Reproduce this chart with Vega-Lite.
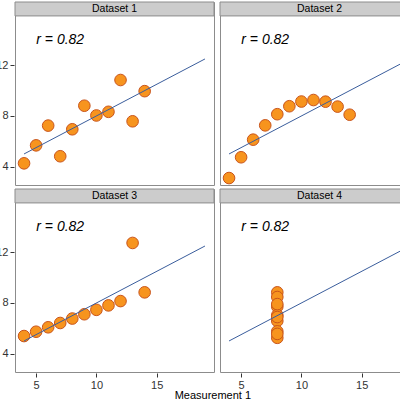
{
  "$schema": "https://vega.github.io/schema/vega-lite/v6.json",
  "autosize": {"type": "pad"},
  "padding": {"left": -5, "top": 1, "right": 0, "bottom": 0},
  "background": "white",
  "data": {"values": [
    {"dataset": "Dataset 1", "x": 10, "y": 8.04},
    {"dataset": "Dataset 1", "x": 8, "y": 6.95},
    {"dataset": "Dataset 1", "x": 13, "y": 7.58},
    {"dataset": "Dataset 1", "x": 9, "y": 8.81},
    {"dataset": "Dataset 1", "x": 11, "y": 8.33},
    {"dataset": "Dataset 1", "x": 14, "y": 9.96},
    {"dataset": "Dataset 1", "x": 6, "y": 7.24},
    {"dataset": "Dataset 1", "x": 4, "y": 4.26},
    {"dataset": "Dataset 1", "x": 12, "y": 10.84},
    {"dataset": "Dataset 1", "x": 7, "y": 4.82},
    {"dataset": "Dataset 1", "x": 5, "y": 5.68},
    {"dataset": "Dataset 2", "x": 10, "y": 9.14},
    {"dataset": "Dataset 2", "x": 8, "y": 8.14},
    {"dataset": "Dataset 2", "x": 13, "y": 8.74},
    {"dataset": "Dataset 2", "x": 9, "y": 8.77},
    {"dataset": "Dataset 2", "x": 11, "y": 9.26},
    {"dataset": "Dataset 2", "x": 14, "y": 8.1},
    {"dataset": "Dataset 2", "x": 6, "y": 6.13},
    {"dataset": "Dataset 2", "x": 4, "y": 3.1},
    {"dataset": "Dataset 2", "x": 12, "y": 9.13},
    {"dataset": "Dataset 2", "x": 7, "y": 7.26},
    {"dataset": "Dataset 2", "x": 5, "y": 4.74},
    {"dataset": "Dataset 3", "x": 10, "y": 7.46},
    {"dataset": "Dataset 3", "x": 8, "y": 6.77},
    {"dataset": "Dataset 3", "x": 13, "y": 12.74},
    {"dataset": "Dataset 3", "x": 9, "y": 7.11},
    {"dataset": "Dataset 3", "x": 11, "y": 7.81},
    {"dataset": "Dataset 3", "x": 14, "y": 8.84},
    {"dataset": "Dataset 3", "x": 6, "y": 6.08},
    {"dataset": "Dataset 3", "x": 4, "y": 5.39},
    {"dataset": "Dataset 3", "x": 12, "y": 8.15},
    {"dataset": "Dataset 3", "x": 7, "y": 6.42},
    {"dataset": "Dataset 3", "x": 5, "y": 5.73},
    {"dataset": "Dataset 4", "x": 8, "y": 6.58},
    {"dataset": "Dataset 4", "x": 8, "y": 5.76},
    {"dataset": "Dataset 4", "x": 8, "y": 7.71},
    {"dataset": "Dataset 4", "x": 8, "y": 8.84},
    {"dataset": "Dataset 4", "x": 8, "y": 8.47},
    {"dataset": "Dataset 4", "x": 8, "y": 7.04},
    {"dataset": "Dataset 4", "x": 8, "y": 5.25},
    {"dataset": "Dataset 4", "x": 19, "y": 12.5},
    {"dataset": "Dataset 4", "x": 8, "y": 5.56},
    {"dataset": "Dataset 4", "x": 8, "y": 7.91},
    {"dataset": "Dataset 4", "x": 8, "y": 6.89},
    {"dataset": "Dataset 1", "label": "r = 0.82"},
    {"dataset": "Dataset 2", "label": "r = 0.82"},
    {"dataset": "Dataset 3", "label": "r = 0.82"},
    {"dataset": "Dataset 4", "label": "r = 0.82"}
  ]},
  "facet": {"field": "dataset", "type": "nominal", "title": null, "header": {"labelExpr": "''", "labelFontSize": 0, "labelColor": "transparent", "labelPadding": 0, "title": null}},
  "columns": 2,
  "spacing": {"row": 1, "column": 4},
  "title": {"text": "Measurement 1", "orient": "bottom", "anchor": "middle", "fontSize": 11, "fontWeight": "normal", "font": "Liberation Sans", "color": "#000000", "offset": 0, "dx": 5},
  "spec": {
    "width": 199,
    "height": 183,
    "layer": [
      {
        "transform": [{"filter": "isValid(datum.label)"}],
        "mark": {"type": "rect", "fill": "#cccccc", "stroke": "#8c8c8c", "strokeWidth": 1},
        "encoding": {
          "x": {"datum": 3.25, "type": "quantitative",
            "scale": {"domain": [3.25, 19.75], "nice": false, "zero": false},
            "axis": {"title": null, "values": [5, 7.5, 10, 12.5, 15, 17.5],
              "labelExpr": "datum.value % 5 === 0 ? datum.label : ''",
              "gridColor": {"condition": {"test": "datum.value % 5 === 0", "value": "#e3e3e3"}, "value": "#f3f3f3"},
              "tickColor": {"condition": {"test": "datum.value % 5 === 0", "value": "#333333"}, "value": "transparent"}}},
          "x2": {"datum": 19.75},
          "y": {"datum": 15.9, "type": "quantitative",
            "scale": {"domain": [2.55, 17.0], "nice": false, "zero": false},
            "axis": {"title": null, "values": [4, 6, 8, 10, 12, 14],
              "labelExpr": "datum.value % 4 === 0 ? datum.label : ''",
              "gridColor": {"condition": {"test": "datum.value % 4 === 0", "value": "#e3e3e3"}, "value": "#f3f3f3"},
              "tickColor": {"condition": {"test": "datum.value % 4 === 0", "value": "#333333"}, "value": "transparent"}}},
          "y2": {"datum": 17.0}
        }
      },
      {
        "transform": [{"filter": "isValid(datum.label)"}],
        "mark": {"type": "text", "font": "Liberation Sans", "fontSize": 10.5, "color": "#000000", "align": "center", "baseline": "middle"},
        "encoding": {
          "x": {"datum": 11.5, "type": "quantitative"},
          "y": {"datum": 16.45, "type": "quantitative"},
          "text": {"field": "dataset"}
        }
      },
      {
        "transform": [{"filter": "isValid(datum.label)"}],
        "mark": {"type": "text", "font": "Liberation Sans", "fontSize": 14, "fontStyle": "italic", "color": "#000000", "align": "center", "baseline": "middle"},
        "encoding": {
          "x": {"datum": 7, "type": "quantitative"},
          "y": {"datum": 14, "type": "quantitative"},
          "text": {"field": "label"}
        }
      },
      {
        "transform": [{"filter": "isValid(datum.x)"}],
        "mark": {"type": "point", "shape": "circle", "filled": true, "size": 135, "fill": "#F7941E", "stroke": "#C9541A", "strokeWidth": 1, "opacity": 1},
        "encoding": {
          "x": {"field": "x", "type": "quantitative"},
          "y": {"field": "y", "type": "quantitative"}
        }
      },
      {
        "transform": [
          {"filter": "isValid(datum.x)"},
          {"regression": "y", "on": "x", "groupby": ["dataset"], "extent": [4, 19]}
        ],
        "mark": {"type": "line", "color": "#3A5D9C", "strokeWidth": 1},
        "encoding": {
          "x": {"field": "x", "type": "quantitative"},
          "y": {"field": "y", "type": "quantitative"}
        }
      }
    ]
  },
  "config": {
    "font": "Liberation Sans",
    "view": {"stroke": "#8c8c8c", "strokeWidth": 1},
    "axis": {"domain": false, "tickSize": 4, "tickWidth": 1, "labelFont": "Liberation Sans", "labelFontSize": 11, "labelColor": "#333333", "labelPadding": 2, "gridWidth": 1}
  }
}
